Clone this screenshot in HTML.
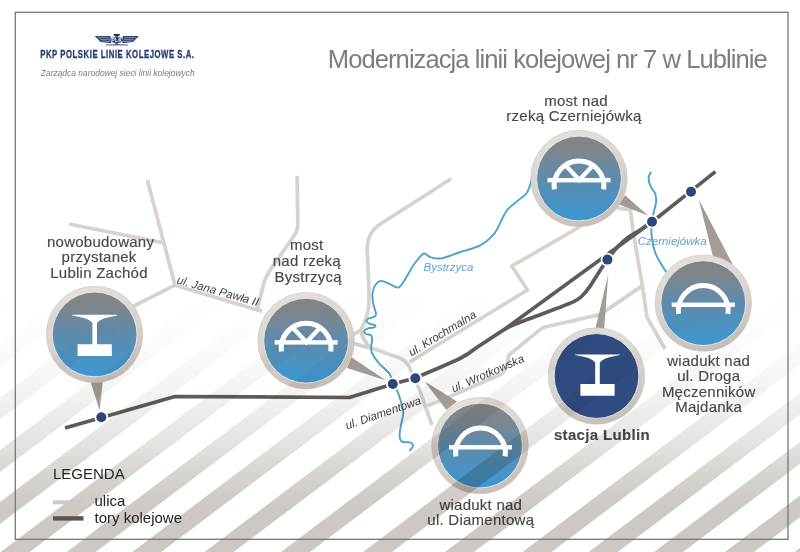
<!DOCTYPE html>
<html><head><meta charset="utf-8">
<style>
html,body{margin:0;padding:0;background:#fff;}
body{width:800px;height:552px;overflow:hidden;position:relative;font-family:"Liberation Sans",sans-serif;}
svg{position:absolute;left:0;top:0;}
</style></head><body>
<svg width="800" height="552" viewBox="0 0 800 552">
<defs>
  <linearGradient id="inner" x1="0" y1="0" x2="0" y2="1">
    <stop offset="0" stop-color="#848484"/>
    <stop offset="0.16" stop-color="#7f868c"/>
    <stop offset="0.5" stop-color="#5d8bac"/>
    <stop offset="1" stop-color="#3c98d3"/>
  </linearGradient>
  <linearGradient id="ring" x1="0" y1="0" x2="0" y2="1">
    <stop offset="0" stop-color="#ddd9d4"/>
    <stop offset="1" stop-color="#c3beb9"/>
  </linearGradient>
  <linearGradient id="ringR" x1="0.3" y1="0" x2="0.6" y2="1">
    <stop offset="0" stop-color="#e4e0dc"/>
    <stop offset="0.5" stop-color="#d9d4cf"/>
    <stop offset="1" stop-color="#c6beb7"/>
  </linearGradient>
  <linearGradient id="ringShade" x1="0" y1="0" x2="0" y2="1">
    <stop offset="0" stop-color="#fff" stop-opacity="0"/>
    <stop offset="1" stop-color="#fff" stop-opacity="0"/>
  </linearGradient>
  <linearGradient id="ptr" x1="0" y1="0" x2="0" y2="1">
    <stop offset="0" stop-color="#9e9891"/>
    <stop offset="1" stop-color="#a59f99"/>
  </linearGradient>
  <linearGradient id="fade" x1="0" y1="0" x2="0" y2="1">
    <stop offset="0.5344" stop-color="#fff" stop-opacity="0"/>
    <stop offset="0.6341" stop-color="#fff" stop-opacity="0.09"/>
    <stop offset="0.7246" stop-color="#fff" stop-opacity="0.25"/>
    <stop offset="0.7971" stop-color="#fff" stop-opacity="0.5"/>
    <stop offset="0.8514" stop-color="#fff" stop-opacity="0.76"/>
    <stop offset="0.8967" stop-color="#fff" stop-opacity="0.93"/>
    <stop offset="0.9239" stop-color="#fff" stop-opacity="1"/>
  </linearGradient>
  <mask id="fmask" maskUnits="userSpaceOnUse" x="0" y="0" width="800" height="552">
    <rect x="0" y="0" width="800" height="552" fill="url(#fade)"/>
  </mask>
  
  <symbol id="bridgeX" overflow="visible">
    <rect x="-31.5" y="-0.5" width="63" height="4.4" fill="#fff"/>
    <path d="M-24.67,10.8 A24.9,24.9 0 1 1 24.67,10.8" fill="none" stroke="#fff" stroke-width="5"/>
    <path d="M-12.8,-12.5 L0.3,1.6 L13.4,-12.5" fill="none" stroke="#fff" stroke-width="4.4"/>
  </symbol>
  <symbol id="bridge" overflow="visible">
    <rect x="-31.5" y="-0.5" width="63" height="4.4" fill="#fff"/>
    <path d="M-24.67,10.8 A24.9,24.9 0 1 1 24.67,10.8" fill="none" stroke="#fff" stroke-width="5"/>
  </symbol>
  <symbol id="platform" overflow="visible">
    <path d="M-22.4,-20.5 L22.4,-20.5 L22.4,-19.9 Q6,-17.4 2.3,-12.5 L2.3,9 L17.1,9 L17.1,20.7 L-17.1,20.7 L-17.1,9 L-2.3,9 L-2.3,-12.5 Q-6,-17.4 -22.4,-19.9 Z" fill="#fff"/>
  </symbol>
</defs>

<rect x="0" y="0" width="800" height="552" fill="#fff"/>

<!-- roads -->
<g fill="none" stroke="#d7d2cd" stroke-width="3.7" stroke-linejoin="round" stroke-linecap="butt">
  <path d="M69,224 L162,242.5"/>
  <path d="M147.4,180.3 L175,285.2 L262,311.3"/>
  <path d="M175,285.2 L130,308"/>
  <path d="M297.1,175.9 L297.8,225.4 Q297.5,232 292.4,238 L275.9,262 Q268,272 264.1,282 L257,310"/>
  <path d="M451.2,178.8 L378,225.5 Q368,233 367.1,248 L369,290 L369,303 Q368,318 360.5,330.5 L350,336"/>
  <path d="M360.5,330.5 Q363,340 370,347.5"/>
  <path d="M350,342.5 L376.2,349.7 L399.8,357.9 Q408,362 410.5,370 L419.6,390 L432,425"/>
  <path d="M409.8,362 L527.5,290 L511.8,266.2 L581,226"/>
  <path d="M427.6,405.9 L451.7,395.8 L501.1,374.2 Q507,369 507.8,362 L508.7,355.2 L540.6,329.1 Q542,328 545,327 L600,314.6 L642.2,285.9"/>
  <path d="M617,208.2 L630.4,209.6 L633,231 L642.2,284.8 L647,317.4 L665,349"/>
</g>

<!-- rivers -->
<g fill="none" stroke="#4aa4c9" stroke-width="1.9" stroke-linejoin="round" stroke-linecap="round">
  <path d="M533.0,172.0 C532.5,174.3 531.0,182.3 529.8,186.0 C528.6,189.7 528.0,191.6 526.0,194.0 C524.0,196.4 520.9,197.9 517.8,200.6 C514.7,203.3 509.9,206.7 507.2,210.0 C504.4,213.3 503.4,216.8 501.3,220.7 C499.2,224.6 497.8,229.5 494.3,233.6 C490.8,237.7 486.0,242.2 480.1,245.4 C474.2,248.6 465.4,250.3 458.9,252.5 C452.4,254.7 446.0,257.6 441.2,258.4 C436.4,259.1 432.9,257.8 430.0,257.0 C427.1,256.2 426.2,252.5 423.6,253.7 C421.0,254.9 417.4,259.8 414.1,264.3 C410.8,268.9 406.7,277.1 404.0,281.0 C401.3,284.9 400.5,287.2 398.0,287.6 C395.5,288.0 391.9,284.7 389.0,283.6 C386.1,282.5 383.1,280.7 380.8,280.9 C378.5,281.1 376.8,283.0 375.4,285.0 C374.0,287.0 373.0,289.8 372.6,293.0 C372.2,296.2 372.7,300.6 373.3,304.0 C373.9,307.4 375.8,311.3 376.0,313.4 C376.2,315.5 375.7,315.9 374.5,316.8 C373.3,317.7 369.9,317.7 368.6,318.5 C367.3,319.3 366.3,320.7 366.5,321.6 C366.7,322.5 368.6,323.2 370.0,323.8 C371.4,324.4 374.3,324.7 375.0,325.3 C375.7,325.9 375.3,326.9 374.0,327.5 C372.7,328.1 368.9,328.0 367.2,328.6 C365.5,329.2 364.2,330.4 364.0,331.3 C363.8,332.2 365.0,333.3 366.2,334.0 C367.4,334.7 370.3,334.3 371.3,335.5 C372.3,336.7 372.0,339.2 372.0,341.0 C372.0,342.8 371.3,344.0 371.3,346.0 C371.3,348.0 370.7,350.1 372.0,353.0 C373.3,355.9 376.0,359.8 379.0,363.3 C382.0,366.8 387.5,370.8 389.8,374.2 C392.1,377.6 391.7,381.1 393.0,384.0 C394.3,386.9 396.0,388.2 397.5,391.6 C399.0,395.0 400.8,401.0 401.8,404.6 C402.8,408.2 403.4,409.9 403.3,413.3 C403.2,416.7 401.7,421.3 401.1,424.9 C400.5,428.5 399.5,432.2 399.6,435.0 C399.7,437.8 400.1,440.4 401.8,441.6 C403.5,442.8 407.9,441.8 409.8,442.3 C411.7,442.8 412.6,443.8 413.0,444.8 C413.4,445.8 412.5,447.2 412.0,448.1 C411.5,449.0 410.2,449.9 409.8,450.3"/>
  <path d="M650.7,172.6 C650.3,173.5 648.5,175.7 648.5,178.0 C648.5,180.3 649.6,184.1 650.7,186.7 C651.8,189.2 654.1,190.8 655.0,193.3 C655.9,195.9 656.3,198.9 656.1,202.0 C655.9,205.1 654.6,208.4 653.9,211.7 C653.2,214.9 652.1,217.3 651.7,221.5 C651.3,225.7 651.2,231.6 651.7,236.7 C652.2,241.8 653.5,247.7 655.0,252.0 C656.5,256.4 658.6,259.6 660.4,262.8 C662.2,266.1 665.0,270.1 665.9,271.5"/>
</g>

<!-- railway -->
<g fill="none" stroke="#5f5b57" stroke-width="3.7" stroke-linejoin="round">
  <path d="M65,428 L175,396.5 L349.5,397.5 L393,384 L415,378 L441,367 L459,359 Q468,354.5 476,348 L504.4,329.4 L652.3,221.7 L715.4,171.6"/>
  <path d="M504.4,329.4 C505.7,328.8 507.7,327.3 512.0,325.5 C516.3,323.7 522.5,321.4 530.0,318.5 C537.5,315.6 550.0,311.1 557.2,308.3 C564.5,305.5 569.5,303.7 573.5,301.7 C577.5,299.7 578.8,299.1 581.5,296.5 C584.2,293.9 587.2,290.2 590.0,286.3 C592.8,282.4 595.6,277.4 598.5,273.0 C601.4,268.6 604.1,264.0 607.4,259.6 C610.6,255.2 614.6,250.2 618.0,246.5 C621.4,242.8 624.5,240.1 628.0,237.5 C631.5,234.9 635.7,232.9 639.0,230.7 C642.3,228.5 646.5,225.5 648.0,224.5"/>
</g>

<!-- pointers -->
<g fill="url(#ptr)">
  <path d="M90,380 L103,380 L99.6,410.5 Z"/>
  <path d="M346.8,368 L351.5,357.2 L385.7,380.3 Z"/>
  <path d="M619,204.5 L625,195.3 L648,215.5 Z"/>
  <path d="M594.8,331 L604,331 L608.2,274.5 Z"/>
  <path d="M713.3,258 L733,265 L698.8,199.4 Z"/>
  <path d="M446.3,410 L457,401.5 L424.5,381.3 Z"/>
</g>

<!-- circles -->
<g>
  <circle cx="94.6" cy="334.4" r="48.2" fill="url(#ringR)" stroke="#c9c4bf" stroke-width="0.6"/>
  <circle cx="94.6" cy="334.4" r="48.4" fill="url(#ringShade)"/>
  <circle cx="94.6" cy="334.4" r="42.4" fill="url(#inner)" stroke="#eeeae6" stroke-width="0.9"/>
  <circle cx="306.1" cy="340.7" r="48.2" fill="url(#ringR)" stroke="#c9c4bf" stroke-width="0.6"/>
  <circle cx="306.1" cy="340.7" r="48.4" fill="url(#ringShade)"/>
  <circle cx="306.1" cy="340.7" r="42.4" fill="url(#inner)" stroke="#eeeae6" stroke-width="0.9"/>
  <circle cx="579" cy="178.5" r="48.2" fill="url(#ringR)" stroke="#c9c4bf" stroke-width="0.6"/>
  <circle cx="579" cy="178.5" r="48.4" fill="url(#ringShade)"/>
  <circle cx="579" cy="178.5" r="42.4" fill="url(#inner)" stroke="#eeeae6" stroke-width="0.9"/>
  <circle cx="596.5" cy="376" r="48.2" fill="url(#ringR)" stroke="#c9c4bf" stroke-width="0.6"/>
  <circle cx="596.5" cy="376" r="48.4" fill="url(#ringShade)"/>
  <circle cx="596.5" cy="376" r="42.4" fill="#2f4b80" stroke="#eeeae6" stroke-width="0.9"/>
  <circle cx="703.3" cy="303.1" r="48.2" fill="url(#ringR)" stroke="#c9c4bf" stroke-width="0.6"/>
  <circle cx="703.3" cy="303.1" r="48.4" fill="url(#ringShade)"/>
  <circle cx="703.3" cy="303.1" r="42.4" fill="url(#inner)" stroke="#eeeae6" stroke-width="0.9"/>
  <circle cx="480" cy="445.6" r="48.2" fill="url(#ringR)" stroke="#c9c4bf" stroke-width="0.6"/>
  <circle cx="480" cy="445.6" r="48.4" fill="url(#ringShade)"/>
  <circle cx="480" cy="445.6" r="42.4" fill="url(#inner)" stroke="#eeeae6" stroke-width="0.9"/>
</g>

<!-- dots -->
<g>
  <circle cx="101.3" cy="417.3" r="6.8" fill="#fff"/><circle cx="101.3" cy="417.3" r="5" fill="#2b4679"/>
  <circle cx="392.8" cy="384" r="6.8" fill="#fff"/><circle cx="392.8" cy="384" r="5" fill="#2b4679"/>
  <circle cx="415.3" cy="378.2" r="6.8" fill="#fff"/><circle cx="415.3" cy="378.2" r="5" fill="#2b4679"/>
  <circle cx="607.4" cy="259.6" r="6.8" fill="#fff"/><circle cx="607.4" cy="259.6" r="5" fill="#2b4679"/>
  <circle cx="652" cy="221.8" r="6.8" fill="#fff"/><circle cx="652" cy="221.8" r="5" fill="#2b4679"/>
  <circle cx="691" cy="191.8" r="6.8" fill="#fff"/><circle cx="691" cy="191.8" r="5" fill="#2b4679"/>
</g>

<!-- labels -->
<g font-family="Liberation Sans" font-size="15" fill="#484848" stroke="#484848" stroke-width="0.15" text-anchor="middle" letter-spacing="0.25">
  <text x="100.6" y="246.8">nowobudowany</text>
  <text x="99.1" y="262.3">przystanek</text>
  <text x="99" y="277.8">Lublin Zachód</text>
  <text x="306.8" y="250.4">most</text>
  <text x="306.8" y="265.9">nad rzeką</text>
  <text x="308.2" y="281.6">Bystrzycą</text>
  <text x="576" y="105.6">most nad</text>
  <text x="574" y="121.1">rzeką Czerniejówką</text>
  <text x="708.7" y="365.5">wiadukt nad</text>
  <text x="708.7" y="381">ul. Droga</text>
  <text x="708.7" y="396.5">Męczenników</text>
  <text x="708.7" y="412">Majdanka</text>
  <text x="480.8" y="510.3">wiadukt nad</text>
  <text x="480.8" y="525.3">ul. Diamentową</text>
  <text x="602" y="440" font-weight="bold" letter-spacing="0.35">stacja Lublin</text>
</g>
<g font-family="Liberation Sans" font-size="11.5" font-style="italic" fill="#3f3f3f">
  <text transform="translate(176.3,283.2) rotate(15.8)">ul. Jana Pawła II</text>
  <text transform="translate(411.5,356.5) rotate(-31.2)">ul. Krochmalna</text>
  <text transform="translate(453.5,392.5) rotate(-23.5)">ul. Wrotkowska</text>
  <text transform="translate(347,429.5) rotate(-19.1)">ul. Diamentowa</text>
  <text x="423.5" y="271" fill="#5ea4c6">Bystrzyca</text>
  <text x="637.7" y="244.5" fill="#5ea4c6">Czerniejówka</text>
</g>

<!-- header -->
<text x="327.8" y="68" font-family="Liberation Sans" font-size="25.6" letter-spacing="-0.95" fill="#7d7d7d">Modernizacja linii kolejowej nr 7 w Lublinie</text>
<text x="40.2" y="57.8" font-family="Liberation Sans" font-weight="bold" font-size="11.4" fill="#1f3a73" stroke="#1f3a73" stroke-width="0.3" letter-spacing="0.8" transform="translate(40.2,0) scale(0.68,1) translate(-40.2,0)">PKP POLSKIE LINIE KOLEJOWE S.A.</text>
<text x="40.8" y="76.4" font-family="Liberation Sans" font-style="italic" font-size="8.45" fill="#7a7a7a">Zarządca narodowej sieci linii kolejowych</text>
<!-- logo -->
<g>
  <path d="M113.6,34 L119.8,34 L119.8,35.4 L118,35.9 L118,37 L115.4,37 L115.4,35.9 L113.6,35.4 Z" fill="#1d2f5c"/>
  <path d="M94.8,35.9 L110.5,35.9 L111.2,43.2 L100.5,42 Z" fill="#35466f"/>
  <path d="M138.9,35.9 L122.8,35.9 L122.1,43.2 L133,42 Z" fill="#35466f"/>
  <path d="M98,37.4 L109.5,37.7 M99.8,39.2 L109.8,39.7 M101.8,41 L110.2,41.5" stroke="#a9b5d2" stroke-width="0.6" fill="none"/>
  <path d="M135.7,37.4 L124.2,37.7 M133.9,39.2 L123.9,39.7 M131.9,41 L123.5,41.5" stroke="#a9b5d2" stroke-width="0.6" fill="none"/>
  <ellipse cx="116.7" cy="40" rx="6.6" ry="3.1" fill="#1e2f5b" stroke="#b9c3d9" stroke-width="0.5"/>
  <path d="M115.6,43.1 L117.8,43.1 L118.5,44.3 L128,44.6 L128,45.5 L105.6,45.5 L105.6,44.6 L115,44.3 Z" fill="#56698f"/>
  <text x="116.7" y="42.1" font-family="Liberation Sans" font-size="5.4" font-weight="bold" fill="#fff" text-anchor="middle">PLK</text>
</g>

<!-- stripes overlay -->
<g mask="url(#fmask)" style="mix-blend-mode:multiply" fill="#cdc8c3">
  <path d="M-425.9,560 L-396.9,560 L27.8,240 L-1.2,240 Z"/>
  <path d="M-355.9,560 L-326.9,560 L97.8,240 L68.8,240 Z"/>
  <path d="M-285.9,560 L-256.9,560 L167.8,240 L138.8,240 Z"/>
  <path d="M-215.9,560 L-186.9,560 L237.8,240 L208.8,240 Z"/>
  <path d="M-145.9,560 L-116.9,560 L307.8,240 L278.8,240 Z"/>
  <path d="M-76.9,560 L-47.9,560 L376.8,240 L347.8,240 Z"/>
  <path d="M-9.9,560 L19.1,560 L443.8,240 L414.8,240 Z"/>
  <path d="M56.1,560 L85.1,560 L509.8,240 L480.8,240 Z"/>
  <path d="M121.6,560 L150.6,560 L575.3,240 L546.3,240 Z"/>
  <path d="M193.9,560 L222.9,560 L647.5,240 L618.5,240 Z"/>
  <path d="M270.4,560 L299.4,560 L724.0,240 L695.0,240 Z"/>
  <path d="M352.4,560 L381.4,560 L806.0,240 L777.0,240 Z"/>
  <path d="M434.4,560 L463.4,560 L888.0,240 L859.0,240 Z"/>
  <path d="M511.9,560 L540.9,560 L965.5,240 L936.5,240 Z"/>
  <path d="M578.1,560 L607.1,560 L1031.8,240 L1002.8,240 Z"/>
  <path d="M643.4,560 L672.4,560 L1097.0,240 L1068.0,240 Z"/>
  <path d="M714.4,560 L743.4,560 L1168.0,240 L1139.0,240 Z"/>
  <path d="M784.1,560 L813.1,560 L1237.8,240 L1208.8,240 Z"/>
</g>

<!-- icons -->
<g>
  <use href="#platform" x="94.7" y="335.3"/>
  <use href="#bridgeX" x="306.1" y="340.7"/>
  <use href="#bridgeX" x="579" y="178.5"/>
  <use href="#platform" x="597.5" y="375"/>
  <use href="#bridge" x="703.3" y="303.1"/>
  <use href="#bridge" x="480.5" y="445.6"/>
</g>

<!-- legend -->
<text x="53" y="478.8" font-family="Liberation Sans" font-size="15" fill="#262626">LEGENDA</text>
<line x1="53" y1="502.3" x2="83.5" y2="502.3" stroke="#ccc8c6" stroke-width="4"/>
<line x1="53" y1="518.4" x2="83.5" y2="518.4" stroke="#59554f" stroke-width="4.4"/>
<text x="94.5" y="505.5" font-family="Liberation Sans" font-size="15" fill="#222">ulica</text>
<text x="94.5" y="522.5" font-family="Liberation Sans" font-size="15" fill="#222">tory kolejowe</text>

<!-- border -->
<rect x="15.3" y="12.3" width="772.7" height="527" fill="none" stroke="#777" stroke-width="1.3"/>
</svg>
</body></html>
